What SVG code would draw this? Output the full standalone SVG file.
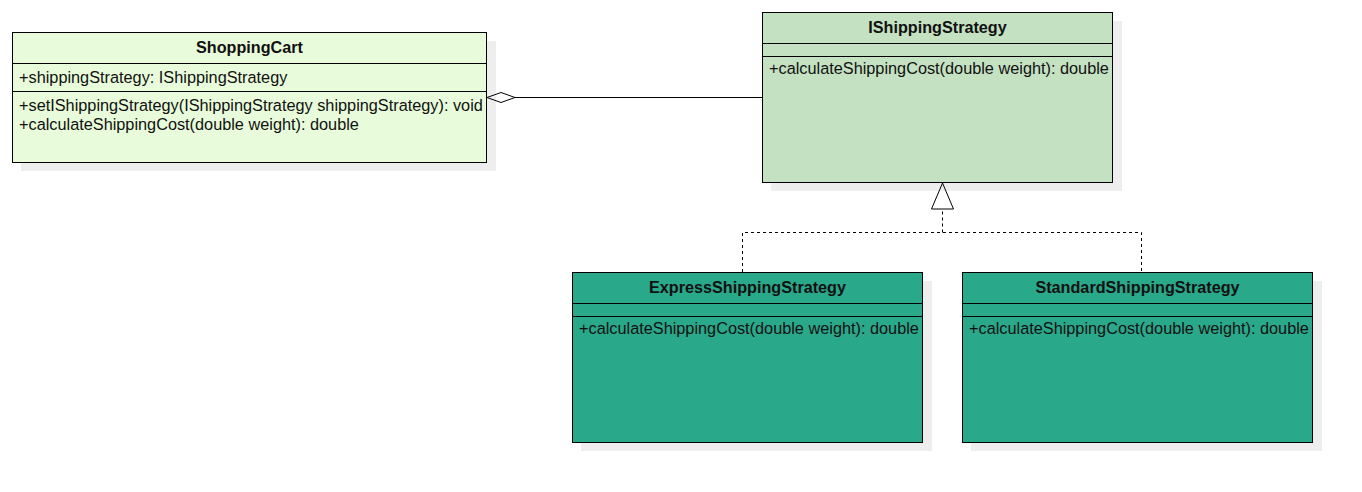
<svg xmlns="http://www.w3.org/2000/svg" width="1362" height="492" viewBox="0 0 1362 492">
  <style>
    .shadow { fill: #eeeeee; }
    .box { stroke: #000; stroke-width: 1; }
    .sep { stroke: #000; stroke-width: 1; fill: none; }
    .title { font-family: "Liberation Sans", Arial, sans-serif; font-size: 16.2px; font-weight: bold; fill: #111; text-anchor: middle; }
    .member { font-family: "Liberation Sans", Arial, sans-serif; font-size: 16.3px; fill: #111; }
    .edge { stroke: #000; stroke-width: 1; fill: none; }
    .dashed { stroke-dasharray: 3 3; }
  </style>
  <rect width="1362" height="492" fill="#ffffff"/>

  <!-- ShoppingCart class -->
  <g id="shopping-cart">
    <rect class="shadow" x="21" y="41" width="475" height="130"/>
    <rect class="box" x="12.5" y="32.5" width="474" height="130" fill="#e8fcdb"/>
    <line class="sep" x1="12.5" y1="63.5" x2="486.5" y2="63.5"/>
    <line class="sep" x1="12.5" y1="91.5" x2="486.5" y2="91.5"/>
    <text class="title" x="249.5" y="53">ShoppingCart</text>
    <text class="member" x="19" y="82.5">+shippingStrategy: IShippingStrategy</text>
    <text class="member" x="19" y="111">+setIShippingStrategy(IShippingStrategy shippingStrategy): void</text>
    <text class="member" x="19" y="129.5">+calculateShippingCost(double weight): double</text>
  </g>

  <!-- IShippingStrategy interface -->
  <g id="ishipping-strategy">
    <rect class="shadow" x="771" y="21" width="351" height="170"/>
    <rect class="box" x="762.5" y="12.5" width="350" height="170" fill="#c4e1c2"/>
    <line class="sep" x1="762.5" y1="43.5" x2="1112.5" y2="43.5"/>
    <line class="sep" x1="762.5" y1="56.5" x2="1112.5" y2="56.5"/>
    <text class="title" x="937.5" y="33">IShippingStrategy</text>
    <text class="member" x="769" y="74">+calculateShippingCost(double weight): double</text>
  </g>

  <!-- ExpressShippingStrategy class -->
  <g id="express-shipping-strategy">
    <rect class="shadow" x="581" y="281" width="351" height="170"/>
    <rect class="box" x="572.5" y="272.5" width="350" height="170" fill="#2aa88a"/>
    <line class="sep" x1="572.5" y1="303.5" x2="922.5" y2="303.5"/>
    <line class="sep" x1="572.5" y1="316.5" x2="922.5" y2="316.5"/>
    <text class="title" x="747.5" y="293">ExpressShippingStrategy</text>
    <text class="member" x="579" y="334">+calculateShippingCost(double weight): double</text>
  </g>

  <!-- StandardShippingStrategy class -->
  <g id="standard-shipping-strategy">
    <rect class="shadow" x="971" y="281" width="351" height="170"/>
    <rect class="box" x="962.5" y="272.5" width="350" height="170" fill="#2aa88a"/>
    <line class="sep" x1="962.5" y1="303.5" x2="1312.5" y2="303.5"/>
    <line class="sep" x1="962.5" y1="316.5" x2="1312.5" y2="316.5"/>
    <text class="title" x="1137.5" y="293">StandardShippingStrategy</text>
    <text class="member" x="969" y="334">+calculateShippingCost(double weight): double</text>
  </g>

  <!-- Connectors -->
  <g id="connectors">
    <!-- aggregation: ShoppingCart holds an IShippingStrategy -->
    <line class="edge" x1="515" y1="97.5" x2="762" y2="97.5"/>
    <polygon class="edge" points="487,97.5 501,92.5 515,97.5 501,102.5" fill="#ffffff"/>
    <!-- realization: concrete strategies implement the interface -->
    <polyline class="edge dashed" points="742.5,272 742.5,232.5 1141.5,232.5 1141.5,272"/>
    <line class="edge dashed" x1="942.5" y1="232.5" x2="942.5" y2="209"/>
    <polygon class="edge" points="942.5,183 953.5,209 931.5,209" fill="#ffffff"/>
  </g>
</svg>
